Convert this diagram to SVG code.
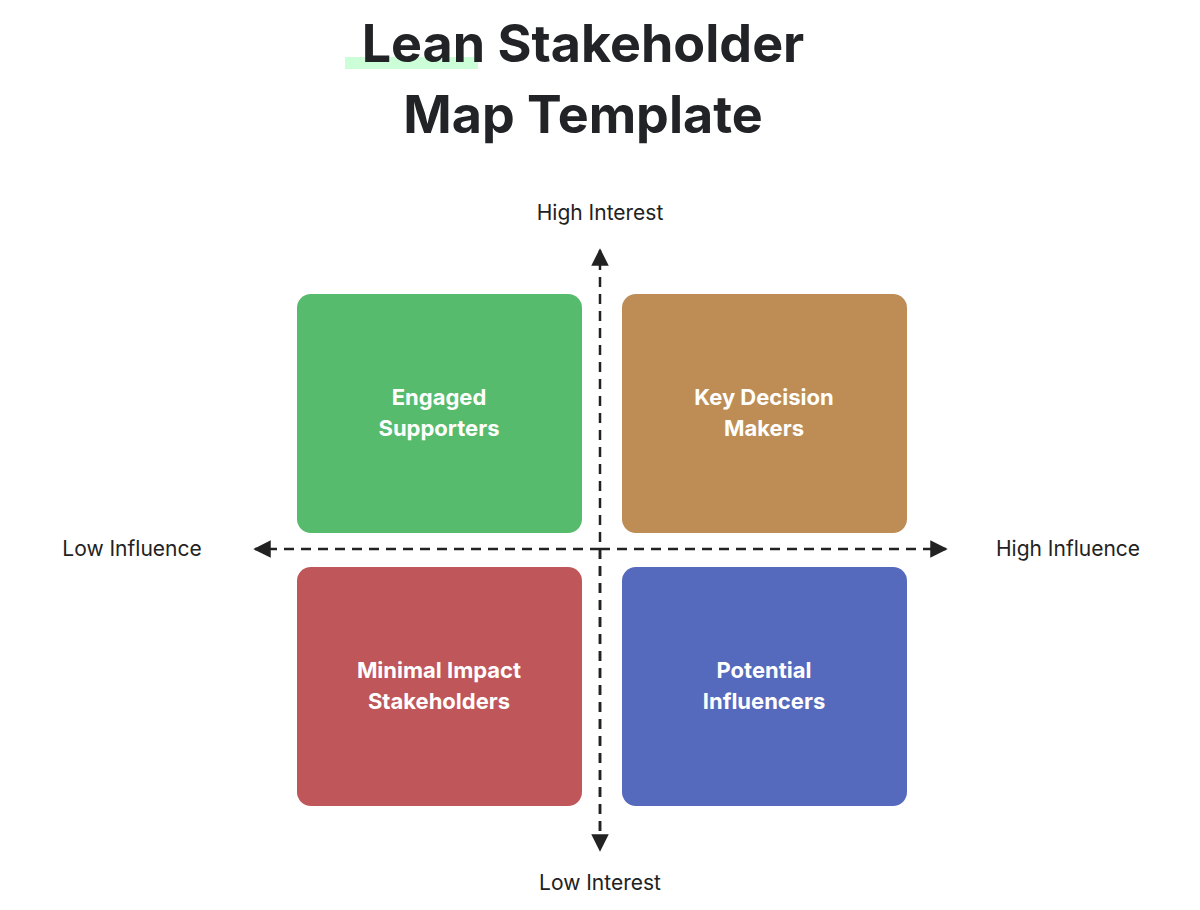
<svg xmlns="http://www.w3.org/2000/svg" width="1200" height="910" viewBox="0 0 1200 910">
<style>
.t{font-family:Inter,"Liberation Sans",sans-serif;font-weight:700;font-size:52px;fill:#222327;text-anchor:middle}
.n{font-family:Inter,"Liberation Sans",sans-serif;font-weight:700;font-size:22px;fill:#fff;text-anchor:middle}
.a{font-family:Inter,"Liberation Sans",sans-serif;font-size:21px;fill:#222;text-anchor:middle}
.ax{stroke:#222;stroke-width:2.5;stroke-dasharray:10 7;fill:none}
</style>
<defs><marker id="ar" viewBox="0 0 10 10" refX="9" refY="5" markerWidth="7" markerHeight="7" orient="auto"><path d="M0,0L10,5L0,10z" fill="#222"/></marker></defs>
<rect x="345" y="57" width="133" height="12" fill="#ccffd8"/>
<text class="t" x="583" y="62">Lean Stakeholder</text>
<text class="t" x="583" y="133">Map Template</text>
<g id="connectors">
<line class="ax" x1="600" y1="848" x2="600" y2="250" marker-end="url(#ar)"/>
<line class="ax" x1="600" y1="549" x2="600" y2="850" marker-end="url(#ar)"/>
<line class="ax" x1="600" y1="549" x2="946" y2="549" marker-end="url(#ar)"/>
<line class="ax" x1="600" y1="549" x2="255" y2="549" marker-end="url(#ar)"/>
</g>
<g id="engaged"><rect x="297" y="294" width="285" height="239" rx="14" fill="#56bb6c"/><text class="n" x="439" y="405">Engaged</text><text class="n" x="439" y="436">Supporters</text></g>
<g id="key"><rect x="622" y="294" width="285" height="239" rx="14" fill="#bd8d55"/><text class="n" x="764" y="405">Key Decision</text><text class="n" x="764" y="436">Makers</text></g>
<g id="minimal"><rect x="297" y="567" width="285" height="239" rx="14" fill="#bf5659"/><text class="n" x="439" y="678">Minimal Impact</text><text class="n" x="439" y="709">Stakeholders</text></g>
<g id="potential"><rect x="622" y="567" width="285" height="239" rx="14" fill="#5569bd"/><text class="n" x="764" y="678">Potential</text><text class="n" x="764" y="709">Influencers</text></g>
<text class="a" x="600" y="220">High Interest</text>
<text class="a" x="600" y="890">Low Interest</text>
<text class="a" x="132" y="556">Low Influence</text>
<text class="a" x="1068" y="556">High Influence</text>
</svg>
